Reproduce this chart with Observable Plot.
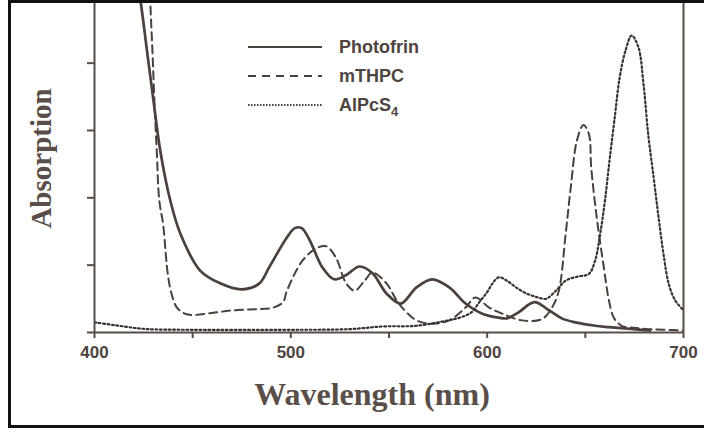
<!DOCTYPE html>
<html><head><meta charset="utf-8">
<script src="https://cdn.jsdelivr.net/npm/d3@7"></script>
<script src="https://cdn.jsdelivr.net/npm/@observablehq/plot@0.6"></script>
<style>
html,body{margin:0;padding:0;background:#fff;overflow:hidden;}
#wrap{position:relative;width:704px;height:430px;}
#border{position:absolute;left:8px;top:0;width:720px;height:428px;border:3px solid #111;box-sizing:border-box;pointer-events:none;}
#legend{position:absolute;left:0;top:0;}
</style></head>
<body><div id="wrap"><div id="border"></div></div>
<script>
// Wavelength (nm) and absorption (arbitrary units)
const photofrinWl = [416,423.4,426.7,430,433.5,438.6,443.7,453.8,464,475,484,489,498,502,505.5,509.6,516,522,528,535,541.6,548.7,556,564,572,580.7,589,597.5,606,610,616,624,631.5,638,645,655,662,670,678.7,683];
const photofrinAbs = [6.2,4.93,4.19,3.45,2.7,1.96,1.47,0.92,0.73,0.64,0.73,0.97,1.41,1.55,1.55,1.37,0.97,0.79,0.85,0.98,0.88,0.58,0.43,0.67,0.79,0.67,0.43,0.28,0.22,0.21,0.3,0.45,0.33,0.21,0.15,0.1,0.08,0.06,0.04,0.03];

const mthpcWl = [427.5,428.4,429.5,430.5,431.7,433,435,436.2,437.2,439,442,446,449.6,460,470.6,485,491,496,498,506,513,518,523,528,532.5,537.6,541.6,548.7,555,564,572,580.7,589,594,601,607.6,617.8,628,633,636.5,640,642.6,645.7,649,651.8,653,655.8,659.4,662,664.5,668.5,675,682,690,700];
const mthpcAbs = [6.0,4.93,4.19,3.45,2.7,1.96,1.6,1.2,0.9,0.6,0.37,0.28,0.26,0.29,0.33,0.35,0.37,0.45,0.62,1.07,1.25,1.28,1.11,0.74,0.62,0.77,0.89,0.73,0.43,0.18,0.13,0.18,0.37,0.52,0.37,0.28,0.18,0.2,0.37,0.62,1.47,2.16,2.85,3.08,2.95,2.45,1.71,0.97,0.48,0.22,0.1,0.07,0.05,0.04,0.03];

const alpcsWl = [400,410,420,427,450,500,530,547,564,580,586,592,596,600,603,606,610,614.7,620,626,630,635,640,646,651.8,655,657.6,660,662.5,665,667.5,670.5,673.6,677,679.6,682,684.8,687.3,689.8,692.4,695.7,700];
const alpcsAbs = [0.15,0.11,0.07,0.05,0.04,0.04,0.05,0.09,0.1,0.18,0.22,0.3,0.45,0.6,0.74,0.82,0.77,0.67,0.58,0.52,0.5,0.62,0.77,0.83,0.87,1.07,1.47,1.96,2.6,3.2,3.79,4.19,4.41,4.24,3.7,2.95,2.3,1.71,1.17,0.73,0.48,0.33];

const seriesNames = ["Photofrin", "mTHPC", "AlPcS4"];
const xTicks = [400, 500, 600, 700];
const xMinorTicks = [400, 450, 500, 550, 600, 650, 700];
const yTicks = [0, 1, 2, 3, 4];

const ink = "#4a403c";
const axisInk = "#574d49";

const toRows = (wl, ab) => wl.map((w, i) => ({wl: w, abs: ab[i]}));
const photofrin = toRows(photofrinWl, photofrinAbs);
const mthpc = toRows(mthpcWl, mthpcAbs);
const alpcs = toRows(alpcsWl, alpcsAbs);

const serif = "'Liberation Serif', 'DejaVu Serif', serif";
const sans = "'Liberation Sans', Arial, sans-serif";

const chart = Plot.plot({
  width: 704,
  height: 430,
  marginLeft: 94,
  marginRight: 21,
  marginTop: 0,
  marginBottom: 98,
  style: {background: "transparent", color: axisInk, fontFamily: sans},
  x: {domain: [400, 700], axis: null, label: null},
  y: {domain: [0, 4.93], axis: null, label: null},
  marks: [
    Plot.line(photofrin, {x: "wl", y: "abs", stroke: ink, strokeWidth: 2.7, curve: "catmull-rom", clip: true}),
    Plot.line(mthpc, {x: "wl", y: "abs", stroke: ink, strokeWidth: 2, strokeDasharray: "8,5", curve: "catmull-rom", clip: true}),
    Plot.line(alpcs, {x: "wl", y: "abs", stroke: "#3a322f", strokeWidth: 2.2, strokeDasharray: "1.8,2.6", curve: "catmull-rom", clip: true}),
    Plot.ruleX([400, 700], {stroke: axisInk, strokeWidth: 2}),
    Plot.ruleY([0], {stroke: axisInk, strokeWidth: 2}),
    Plot.axisX(xMinorTicks, {tickSize: 6, stroke: axisInk, strokeWidth: 2, tickFormat: () => "", tickPadding: 0, label: null}),
    Plot.axisY(yTicks, {tickSize: 7, stroke: axisInk, strokeWidth: 2, tickFormat: () => "", label: null}),
    Plot.text(xTicks, {x: d => d, frameAnchor: "bottom", lineAnchor: "top", dy: 13, text: d => String(d), fontSize: 17, fontWeight: "bold", fontFamily: sans, fill: "#4e4441"}),
    Plot.text(["Wavelength (nm)"], {frameAnchor: "bottom", textAnchor: "middle", lineAnchor: "middle", dx: -17, dy: 62, fontSize: 32, fontWeight: "bold", fontFamily: serif, fill: "#594e49"}),
    Plot.text(["Absorption"], {frameAnchor: "left", textAnchor: "middle", lineAnchor: "middle", rotate: -90, dx: -53, dy: -8, fontSize: 29, fontWeight: "bold", fontFamily: serif, fill: "#594e49"})
  ]
});
document.getElementById("wrap").appendChild(chart);

// Legend overlay
const legendItems = [
  {name: seriesNames[0], dash: null, width: 2.2},
  {name: seriesNames[1], dash: "8,6", width: 2},
  {name: seriesNames[2], dash: "1.5,1.5", width: 1.8}
];
const leg = d3.create("svg").attr("id", "legend").attr("width", 704).attr("height", 130);
legendItems.forEach((d, i) => {
  const y = 47 + i * 29;
  leg.append("line").attr("x1", 248).attr("x2", 322).attr("y1", y).attr("y2", y)
    .attr("stroke", ink).attr("stroke-width", d.width).attr("stroke-dasharray", d.dash);
  const t = leg.append("text").attr("x", 339).attr("y", y).attr("dy", "0.36em")
    .attr("font-family", sans).attr("font-weight", "bold").attr("font-size", 18).attr("fill", "#4e4441");
  if (d.name === "AlPcS4") {
    t.append("tspan").text("AlPcS");
    t.append("tspan").attr("font-size", 13).attr("dy", "0.35em").text("4");
  } else {
    t.text(d.name);
  }
});
document.getElementById("wrap").appendChild(leg.node());
</script>
</body></html>
